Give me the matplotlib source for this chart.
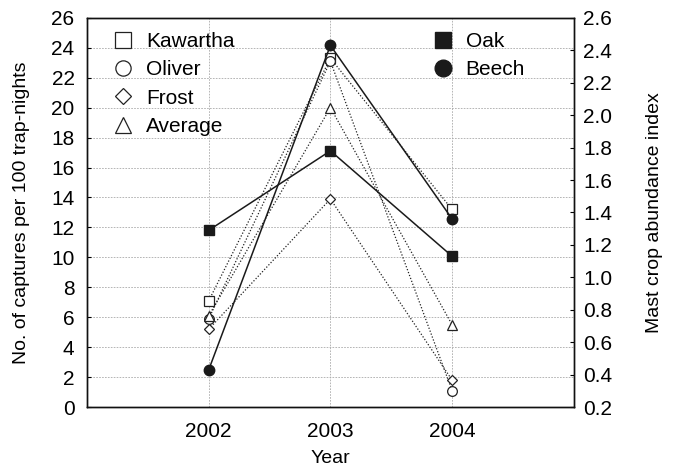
import matplotlib
matplotlib.use("Agg")
import matplotlib.pyplot as plt
from matplotlib.lines import Line2D

plt.rcParams['font.family'] = ['Liberation Sans', 'DejaVu Sans']

years = [2002, 2003, 2004]

# captures per 100 trap-nights (left axis)
kawartha = [7.1, 23.3, 13.2]
oliver = [5.9, 23.1, 1.1]
frost = [5.2, 13.9, 1.8]
average = [6.1, 20.0, 5.5]

# mast crop abundance index (right axis)
oak = [1.29, 1.78, 1.13]
beech = [0.43, 2.43, 1.36]

site_series = [
    ("Kawartha", kawartha, "s"),
    ("Oliver", oliver, "o"),
    ("Frost", frost, "D"),
    ("Average", average, "^"),
]
mast_series = [
    ("Oak", oak, "s"),
    ("Beech", beech, "o"),
]


def main():
    fig = plt.figure(figsize=(6.75, 4.70), dpi=100)
    ax = fig.add_axes([0.129, 0.134, 0.721, 0.828])
    ax2 = ax.twinx()

    sizes = {"s": 7, "o": 7, "D": 5.5, "^": 6.5}
    for name, vals, mk in site_series:
        ax.plot(years, vals, linestyle=(0, (1, 1.5)), color='#222222', lw=0.9,
                marker=mk, markersize=sizes[mk], markerfacecolor='white',
                markeredgecolor='#222222', markeredgewidth=0.9)

    for name, vals, mk in mast_series:
        ax2.plot(years, vals, linestyle='-', color='#1a1a1a', lw=1.1,
                 marker=mk, markersize=7.5, markerfacecolor='#1a1a1a',
                 markeredgecolor='#1a1a1a')

    ax.set_xlim(2001, 2005)
    ax.set_xticks(years)
    ax.set_ylim(0, 26)
    ax.set_yticks(range(0, 27, 2))
    ax2.set_ylim(0.2, 2.6)
    ax2.set_yticks([0.2 + 0.2 * i for i in range(13)])
    ax2.set_yticklabels([f"{0.2 + 0.2 * i:.1f}" for i in range(13)])

    ax.grid(True, color='#aaaaaa', linestyle=(0, (2, 1.5)), lw=0.6)
    ax.set_axisbelow(True)

    for a in (ax, ax2):
        a.tick_params(direction='in', length=3, labelsize=15, width=0.8)
        for sp in a.spines.values():
            sp.set_linewidth(1.0)
            sp.set_color('#111111')
    ax.tick_params(axis='x', length=0, pad=11)
    ax.tick_params(axis='y', pad=9)
    ax2.tick_params(axis='y', pad=7)

    ax.set_xlabel("Year", fontsize=14, labelpad=6)
    ax.set_ylabel("No. of captures per 100 trap-nights", fontsize=14, labelpad=15)
    ax2.set_ylabel("Mast crop abundance index", fontsize=14, labelpad=24)

    site_handles = [Line2D([], [], linestyle='none', marker=mk, markersize=11 if mk != "D" else 8.5,
                           markerfacecolor='white', markeredgecolor='#222222', markeredgewidth=0.9)
                    for _, _, mk in site_series]
    leg1 = ax2.legend(site_handles, [n for n, _, _ in site_series], loc='upper left',
                      bbox_to_anchor=(0.032, 0.985), frameon=False, fontsize=15,
                      handlelength=1.2, handletextpad=0.5, labelspacing=0.45, borderaxespad=0)
    ax2.add_artist(leg1)

    mast_handles = [Line2D([], [], linestyle='none', marker=mk, markersize=12,
                           markerfacecolor='#1a1a1a', markeredgecolor='#1a1a1a')
                    for _, _, mk in mast_series]
    ax2.legend(mast_handles, [n for n, _, _ in mast_series], loc='upper left',
               bbox_to_anchor=(0.688, 0.985), frameon=False, fontsize=15,
               handlelength=1.2, handletextpad=0.5, labelspacing=0.45, borderaxespad=0)

    fig.savefig("out.png", dpi=100)
    plt.close(fig)


if __name__ == "__main__":
    main()
